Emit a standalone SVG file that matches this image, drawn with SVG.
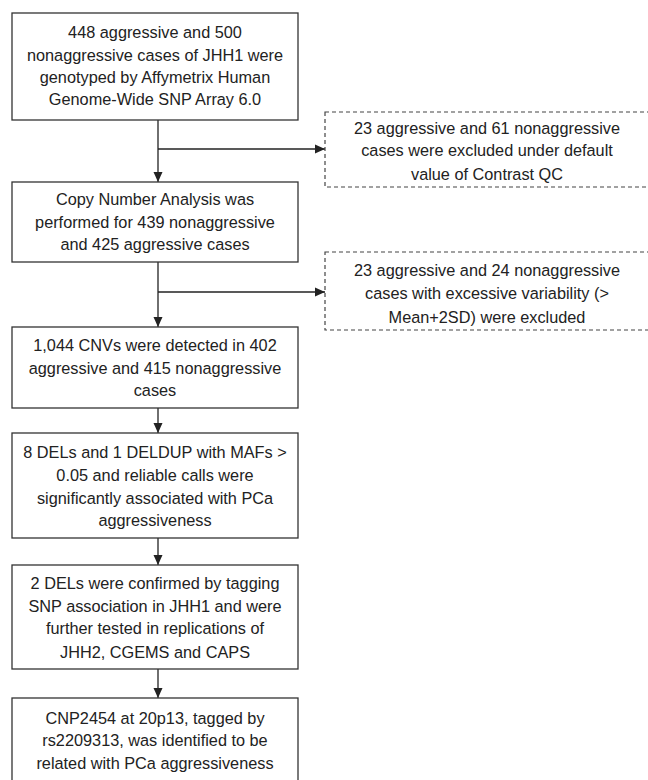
<svg xmlns="http://www.w3.org/2000/svg" width="648" height="780" viewBox="0 0 648 780">
<defs>
<marker id="ah" viewBox="0 0 10 10" refX="10" refY="5" markerWidth="10" markerHeight="10" markerUnits="userSpaceOnUse" orient="auto">
<path d="M0,0.5 L10,5 L0,9.5 Z" fill="#222"/>
</marker>
<style>
.box{fill:#fff;stroke:#333;stroke-width:1.3}
.dash{fill:#fff;stroke:#444;stroke-width:1.2;stroke-dasharray:4 3}
.t{font-family:"Liberation Sans",Arial,sans-serif;font-size:16.3px;fill:#222;text-anchor:middle}
.c{stroke:#222;stroke-width:1.3;fill:none}
</style>
</defs>
<rect width="648" height="780" fill="#fff"/>
<g id="connectors">
<line class="c" x1="158" y1="120" x2="158" y2="182" marker-end="url(#ah)"/>
<line class="c" x1="158" y1="149" x2="325" y2="149" marker-end="url(#ah)"/>
<line class="c" x1="158" y1="262" x2="158" y2="327" marker-end="url(#ah)"/>
<line class="c" x1="158" y1="292" x2="325" y2="292" marker-end="url(#ah)"/>
<line class="c" x1="158" y1="408" x2="158" y2="433" marker-end="url(#ah)"/>
<line class="c" x1="158" y1="538" x2="158" y2="565" marker-end="url(#ah)"/>
<line class="c" x1="158" y1="669" x2="158" y2="698" marker-end="url(#ah)"/>
</g>
<g id="n1">
<rect class="box" x="12" y="13" width="286" height="107"/>
<text class="t" x="155" y="38">448 aggressive and 500</text>
<text class="t" x="155" y="61">nonaggressive cases of JHH1 were</text>
<text class="t" x="155" y="83">genotyped by Affymetrix Human</text>
<text class="t" x="155" y="105">Genome-Wide SNP  Array 6.0</text>
</g>
<g id="x1">
<rect class="dash" x="325" y="112" width="340" height="75"/>
<text class="t" x="487" y="134">23 aggressive and 61 nonaggressive</text>
<text class="t" x="487" y="156">cases were excluded under default</text>
<text class="t" x="487" y="180">value of Contrast QC</text>
</g>
<g id="n2">
<rect class="box" x="12" y="182" width="286" height="80"/>
<text class="t" x="155" y="205">Copy Number Analysis was</text>
<text class="t" x="155" y="228">performed for 439 nonaggressive</text>
<text class="t" x="155" y="250">and 425 aggressive cases</text>
</g>
<g id="x2">
<rect class="dash" x="325" y="252" width="340" height="78"/>
<text class="t" x="487" y="276">23 aggressive and 24 nonaggressive</text>
<text class="t" x="487" y="299">cases with excessive variability (&gt;</text>
<text class="t" x="487" y="323">Mean+2SD) were excluded</text>
</g>
<g id="n3">
<rect class="box" x="12" y="327" width="286" height="81"/>
<text class="t" x="155" y="351">1,044 CNVs were detected in 402</text>
<text class="t" x="155" y="374">aggressive and 415 nonaggressive</text>
<text class="t" x="155" y="396">cases</text>
</g>
<g id="n4">
<rect class="box" x="12" y="433" width="286" height="105"/>
<text class="t" x="155" y="458">8 DELs and 1 DELDUP with MAFs &gt;</text>
<text class="t" x="155" y="481">0.05 and reliable calls were</text>
<text class="t" x="155" y="504">significantly associated with PCa</text>
<text class="t" x="155" y="526">aggressiveness</text>
</g>
<g id="n5">
<rect class="box" x="12" y="565" width="286" height="104"/>
<text class="t" x="155" y="589">2 DELs were confirmed by tagging</text>
<text class="t" x="155" y="612">SNP association in JHH1 and were</text>
<text class="t" x="155" y="634">further tested in replications of</text>
<text class="t" x="155" y="658">JHH2, CGEMS and CAPS</text>
</g>
<g id="n6">
<rect class="box" x="12" y="698" width="286" height="95"/>
<text class="t" x="155" y="724">CNP2454 at 20p13,  tagged by</text>
<text class="t" x="155" y="746">rs2209313, was identified to be</text>
<text class="t" x="155" y="769">related with PCa aggressiveness</text>
</g>
</svg>
